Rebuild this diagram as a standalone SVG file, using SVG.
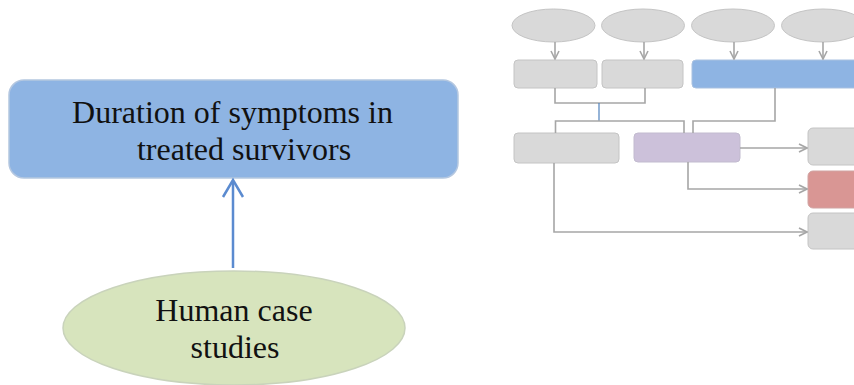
<svg xmlns="http://www.w3.org/2000/svg" width="854" height="385" viewBox="0 0 854 385">
  <defs>
    <style>
      .lbl { font-family: "Liberation Serif", "Times New Roman", serif; font-size: 32px; fill: #111; text-anchor: middle; }
      .gray { fill: #D9D9D9; stroke: #C4C4C4; stroke-width: 1; }
      .link { fill: none; stroke: #A6A6A6; stroke-width: 1.6; }
    </style>
    <marker id="chev" viewBox="0 0 10 10" refX="9" refY="5" markerWidth="10" markerHeight="10" markerUnits="userSpaceOnUse" orient="auto">
      <path d="M1,1 L9,5 L1,9" fill="none" stroke="#A6A6A6" stroke-width="1.6"/>
    </marker>
  </defs>
  <rect width="854" height="385" fill="#FFFFFF"/>

  <!-- main outcome box -->
  <g id="duration">
    <rect x="9" y="80" width="449" height="98" rx="15" fill="#8EB4E3" stroke="#B4C7E0" stroke-width="1.5"/>
    <text class="lbl" x="232.5" y="123">Duration of symptoms in</text>
    <text class="lbl" x="244" y="160">treated survivors</text>
  </g>

  <!-- evidence source -->
  <g id="case-studies">
    <ellipse cx="234" cy="328" rx="171" ry="57" fill="#D7E4BD" stroke="#C9D3BB" stroke-width="1.5"/>
    <text class="lbl" x="234" y="321">Human case</text>
    <text class="lbl" x="235" y="358">studies</text>
  </g>

  <!-- miniature overview map -->
  <g id="map-inputs">
    <ellipse cx="553.5" cy="25.5" rx="41.5" ry="16.5" class="gray"/>
    <ellipse cx="643" cy="25.5" rx="41.5" ry="16.5" class="gray"/>
    <ellipse cx="733" cy="25.5" rx="41.5" ry="16.5" class="gray"/>
    <ellipse cx="823" cy="25.5" rx="41.5" ry="16.5" class="gray"/>
  </g>
  <g id="map-row1">
    <rect x="514" y="60" width="83" height="28" rx="4" class="gray"/>
    <rect x="602" y="60" width="81" height="28" rx="4" class="gray"/>
    <rect x="692" y="60" width="180" height="28" rx="4" fill="#8EB4E3" stroke="#A9C1E0" stroke-width="1"/>
  </g>
  <g id="map-row2">
    <rect x="514" y="133" width="105" height="30" rx="4" class="gray"/>
    <rect x="634" y="133" width="106" height="29" rx="4" fill="#CCC1DA" stroke="#C2BBCF" stroke-width="1"/>
  </g>
  <g id="map-outcomes">
    <rect x="808" y="128" width="70" height="37" rx="5" class="gray"/>
    <rect x="808" y="171" width="70" height="37" rx="5" fill="#D99694" stroke="#D0A3A2" stroke-width="1"/>
    <rect x="808" y="213" width="70" height="36" rx="5" class="gray"/>
  </g>

  <g id="connectors">
    <!-- evidence to outcome -->
    <line x1="233" y1="268" x2="233" y2="181" stroke="#5B8BD0" stroke-width="2.5"/>
    <path d="M223,197 L233,180 L243,197" fill="none" stroke="#5B8BD0" stroke-width="2.5"/>

    <!-- overview map links -->
    <line x1="555" y1="42" x2="555" y2="59" class="link" marker-end="url(#chev)"/>
    <line x1="644" y1="42" x2="644" y2="59" class="link" marker-end="url(#chev)"/>
    <line x1="734" y1="42" x2="734" y2="59" class="link" marker-end="url(#chev)"/>
    <line x1="823" y1="42" x2="823" y2="59" class="link" marker-end="url(#chev)"/>

    <path d="M555,88 V103 H645 V88" class="link"/>
    <line x1="599" y1="103" x2="599" y2="121" stroke="#4F81BD" stroke-width="1.2"/>
    <path d="M555.5,133 V121 H684 V133" class="link"/>
    <path d="M775,88 V121 H693 V133" class="link"/>

    <line x1="740" y1="148" x2="807" y2="148" class="link" marker-end="url(#chev)"/>
    <path d="M688,162 V189 H807" class="link" marker-end="url(#chev)"/>
    <path d="M554,163 V232 H807" class="link" marker-end="url(#chev)"/>
  </g>
</svg>
